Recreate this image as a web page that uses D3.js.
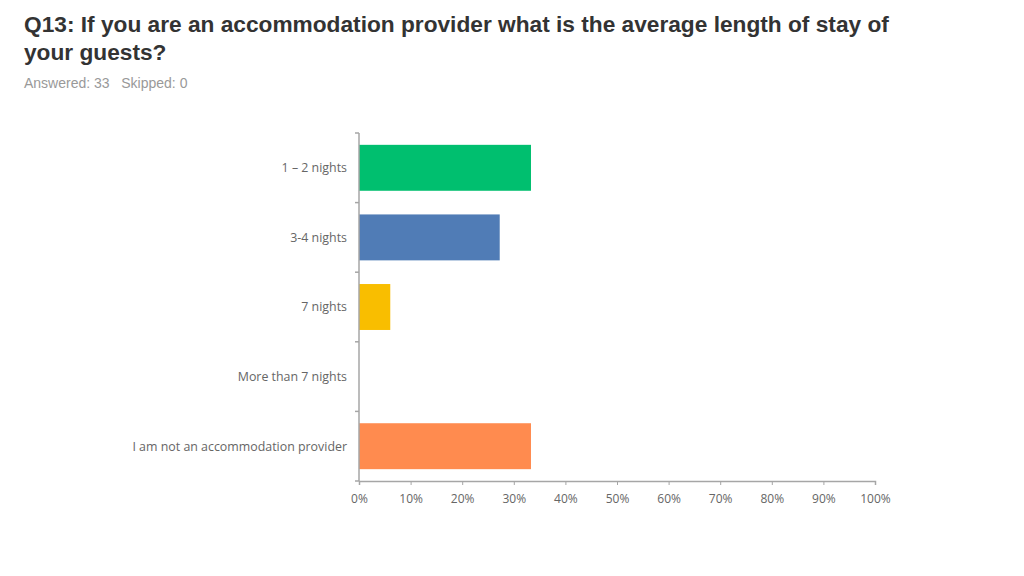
<!DOCTYPE html>
<html>
<head>
<meta charset="utf-8">
<script src="https://cdn.jsdelivr.net/npm/d3@7"></script>
<style>
  body { margin: 0; background: #fff; }
</style>
</head>
<body>
<div id="chart"></div>
<script>
const titleLines = ["Q13: If you are an accommodation provider what is the average length of stay of",
                    "your guests?"]
const subtitle = "Answered: 33   Skipped: 0"

const categories = ["1 – 2 nights", "3-4 nights", "7 nights", "More than 7 nights",
                    "I am not an accommodation provider"]
const values = [0.3333, 0.2727, 0.0606, 0, 0.3333]
const colors = ["#00bf6f", "#507cb6", "#f9be00", "#6bc8cd", "#ff8b4f"]
const xTicks = [0, 0.1, 0.2, 0.3, 0.4, 0.5, 0.6, 0.7, 0.8, 0.9, 1]

let W = 1024, H = 576
let margin = {top: 133, left: 359, right: 149, bottom: 95}
let width = W - margin.left - margin.right,
    height = H - margin.top - margin.bottom

let svg = d3.select("#chart")
            .append("svg")
            .attr("width", W)
            .attr("height", H)

// heading
svg.append("g").selectAll("text")
   .data(titleLines)
   .join("text")
   .attr("x", 24)
   .attr("y", (d, i) => 32 + i * 28)
   .attr("font-family", "'Liberation Sans', Arial, sans-serif")
   .attr("font-weight", "bold")
   .attr("font-size", 22.7)
   .attr("fill", "#333")
   .text(d => d)

svg.append("text")
   .attr("x", 24)
   .attr("y", 88)
   .attr("font-family", "'Liberation Sans', Arial, sans-serif")
   .attr("font-size", 14)
   .attr("fill", "#999")
   .style("white-space", "pre")
   .text(subtitle)

let g = svg.append("g")
           .attr("transform", "translate(" + margin.left + "," + margin.top + ")")

let x = d3.scaleLinear()
          .domain([0, 1])
          .range([0, width])

let y = d3.scaleBand()
          .domain(categories)
          .range([0, height])
          .paddingInner(0.34)
          .paddingOuter(0.17)

// bars
g.selectAll("rect")
 .data(categories)
 .join("rect")
 .attr("x", 0)
 .attr("y", d => y(d))
 .attr("width", (d, i) => x(values[i]))
 .attr("height", y.bandwidth())
 .attr("fill", (d, i) => colors[i])

// x axis
let xAxis = g.append("g")
             .attr("transform", "translate(0," + height + ")")
             .call(d3.axisBottom(x)
                     .tickValues(xTicks)
                     .tickFormat(d3.format(".0%"))
                     .tickSize(4)
                     .tickPadding(9))

// y axis with ticks between bands
let step = height / categories.length
let yAxis = g.append("g")
yAxis.append("line")
     .attr("x1", 0).attr("x2", 0)
     .attr("y1", 0).attr("y2", height)
yAxis.selectAll(".tk")
     .data(d3.range(categories.length + 1))
     .join("line")
     .attr("class", "tk")
     .attr("x1", -4).attr("x2", 0)
     .attr("y1", d => d * step).attr("y2", d => d * step)
yAxis.selectAll("text")
     .data(categories)
     .join("text")
     .attr("x", -12)
     .attr("y", d => y(d) + y.bandwidth() / 2)
     .attr("dy", "0.35em")
     .attr("text-anchor", "end")
     .attr("font-family", "'Open Sans', sans-serif")
     .attr("font-size", 12.4)
     .attr("fill", "#666")
     .text(d => d)

yAxis.selectAll("line").attr("stroke", "#a6a6a6").attr("stroke-width", 1.5)
xAxis.select(".domain").attr("stroke", "#a6a6a6").attr("stroke-width", 1.5)
xAxis.selectAll(".tick line").attr("stroke", "#a6a6a6")
xAxis.selectAll(".tick text")
     .attr("font-family", "'Open Sans', sans-serif")
     .attr("font-size", 12)
     .attr("fill", "#666")
</script>
</body>
</html>
